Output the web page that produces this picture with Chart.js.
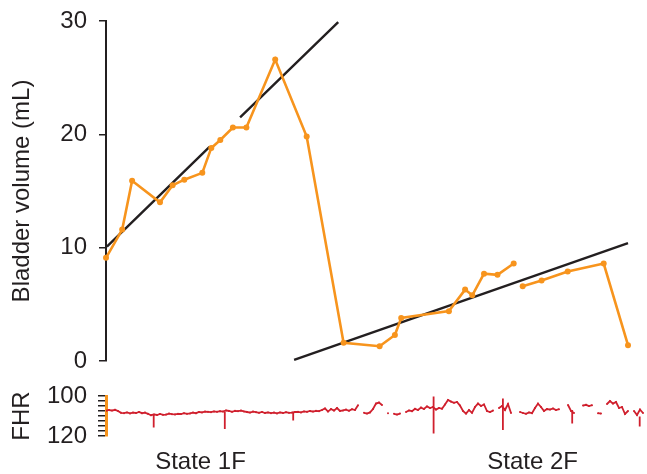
<!DOCTYPE html>
<html>
<head>
<meta charset="utf-8">
<script src="https://cdn.jsdelivr.net/npm/chart.js@4.4.1/dist/chart.umd.min.js"></script>
<style>
  html, body { margin: 0; padding: 0; background: #fff; overflow: hidden; }
  canvas { position: absolute; left: 0; }
  #volChart { top: 0; }
  #fhrChart { top: 380px; }
</style>
</head>
<body>
<canvas id="volChart" width="647" height="380"></canvas>
<canvas id="fhrChart" width="647" height="94"></canvas>
<script>
// ==========================================
// DATA (time in arbitrary units, 0-60)
// ==========================================
const bladderTime = [0, 1.8, 2.9, 6.0, 7.4, 8.7, 10.7, 11.7, 12.7, 14.1, 15.6, 18.8, 22.3,
  26.4, 30.4, 32.1, 32.8, 38.1, 39.9, 40.7, 42.0, 43.5, 45.3, 45.8, 46.3, 48.4, 51.3, 55.3, 58.0];
const bladderVolume = [9.1, 11.6, 15.9, 14.0, 15.5, 16.0, 16.6, 18.8, 19.5, 20.6, 20.6, 26.6, 19.8,
  1.6, 1.3, 2.3, 3.8, 4.4, 6.3, 5.8, 7.7, 7.6, 8.6, null, 6.6, 7.1, 7.9, 8.6, 1.4];

// fitted lines (the first one is broken where the trace crosses it)
const trend1Time = [0.1, 11.5, 13.2, 14.9, 25.8];
const trend1Volume = [10.1, 18.9, null, 21.5, 29.9];
const trend2Time = [20.9, 58.0];
const trend2Volume = [0.1, 10.4];

const volumeTicks = [0, 10, 20, 30];

// FHR sampled every 1/3 time unit, null = signal loss
const fhrStep = 1 / 3;
const fhrValues = [
  107.4, 107.0, 107.3, 106.9, 107.5,
  108.4, 108.6, 108.2, 108.7, 108.3, 108.5, 108.0, 108.6, 108.3, 108.9,
  109.6, 109.2, 109.5, 109.0, 109.4, 109.3, 108.8, 109.1, 109.2, 108.9, 109.0, 108.6, 108.9, 108.7,
  108.3, 108.6, 108.0, 108.2, 107.8, 107.9, 108.1, 107.7, 107.9, 107.6, 107.8, 107.2, 107.5, 107.9, 107.4, 107.6, 107.3, 107.7,
  108.0, 108.3, 107.8, 108.1, 108.4, 108.0, 108.5, 108.2, 108.6, 108.3, 108.7, 108.2, 108.5, 108.1, 108.4,
  108.3, 108.0, 107.9, 108.2, 107.7, 107.9, 107.5, 107.8, 107.4, 107.6,
  107.0, 106.2, 107.8, 106.5, 107.3, 106.0, 107.5,
  107.2, 106.8, 107.4, 106.6, 107.0,
  104.6, null, 108.4, 108.8, 108.2, 106.5,
  103.8, 103.3, 104.5, null, 108.6, null, 108.9, 109.3, 108.8, null,
  108.0, 107.2, 107.6, 106.4, 107.0, 105.8, 106.5, 105.2, 106.0, 105.5, 106.8, 106.0, 106.4, 104.2, 102.0, 102.8, 103.4,
  103.0, 104.8, 107.5, 108.8, 107.0, 108.4, 105.5, 103.8, 105.0, 104.2, 107.5, 108.0, 107.3, null, 106.0, 105.0, 107.0,
  104.0, 108.5, null,
  null, 108.0, 108.5, 108.9, 108.2, 108.6,
  106.0, 103.8, 105.5,
  107.5, 106.5, 106.8, 106.2, 107.0, 106.6, null, null,
  104.5, 107.5, 108.5,
  null, null,
  104.8, 104.4, 105.0, 104.6,
  null, 108.6, 108.8, null,
  104.0, 102.5, 103.8, 103.0, 106.0,
  105.5, 109.0, 107.5, null,
  107.5, 109.5, 106.8, 108.5
];

// short artefact spikes in the FHR trace
const spikeTime = [5.3, 13.2, 20.8, 36.4, 44.1, 51.8, 59.3];
const spikeTop = [109.5, 108.0, 108.5, 100.3, 101.2, 107.0, 110.3];
const spikeBottom = [115.7, 116.5, 112.3, 118.7, 117.0, 113.7, 115.3];

const stateTime = [10.5, 47.4];
const stateLabels = ['State 1F', 'State 2F'];

// ==========================================
// STYLE
// ==========================================
const ORANGE = '#f7941d';
const INK = '#231f20';
const RED = '#d0202e';
const AXIS_W = 106;

Chart.defaults.font.family = "'Liberation Sans', Arial, sans-serif";
Chart.defaults.font.size = 24;
Chart.defaults.color = INK;
Chart.defaults.animation = false;

const pts = (xs, ys) => xs.map((x, i) => ({ x, y: ys[i] }));

// fixed axis width, no extra label padding pushed into the layout
function fixLeftAxis(s) {
  s.width = AXIS_W;
  s.paddingTop = 0;
  s.paddingBottom = 0;
}

// ==========================================
// BLADDER VOLUME PANEL
// ==========================================
new Chart(document.getElementById('volChart'), {
  type: 'line',
  data: {
    datasets: [
      {
        data: pts(bladderTime, bladderVolume), borderColor: ORANGE, backgroundColor: ORANGE,
        borderWidth: 2.6, pointRadius: 3, pointBorderWidth: 0, spanGaps: false, clip: false, order: 0
      },
      {
        data: pts(trend1Time, trend1Volume), borderColor: INK, borderWidth: 2.4,
        pointRadius: 0, spanGaps: false, clip: false, order: 1
      },
      {
        data: pts(trend2Time, trend2Volume), borderColor: INK, borderWidth: 2.4,
        pointRadius: 0, clip: false, order: 1
      }
    ]
  },
  options: {
    responsive: false,
    layout: { autoPadding: false, padding: { left: 0, right: 1, top: 21, bottom: 19 } },
    plugins: { legend: { display: false }, tooltip: { enabled: false } },
    scales: {
      x: { type: 'linear', min: 0, max: 60, display: false },
      y: {
        min: 0, max: 30,
        afterFit: fixLeftAxis,
        afterBuildTicks: (s) => { s.ticks = volumeTicks.map(v => ({ value: v })); },
        ticks: { padding: 12, color: INK },
        grid: { drawOnChartArea: false, drawTicks: true, tickLength: 7, color: INK, lineWidth: 1.5 },
        border: { display: true, color: INK, width: 2 },
        title: { display: true, text: 'Bladder volume (mL)', color: INK, padding: { top: 8, bottom: 0 } }
      }
    }
  }
});

// ==========================================
// FHR PANEL
// ==========================================
const spikeData = [];
spikeTime.forEach((t, i) => {
  spikeData.push({ x: t, y: spikeTop[i] }, { x: t, y: spikeBottom[i] }, { x: t, y: null });
});

new Chart(document.getElementById('fhrChart'), {
  type: 'line',
  data: {
    datasets: [
      {
        data: fhrValues.map((v, i) => ({ x: i * fhrStep, y: v })),
        borderColor: RED, backgroundColor: RED, borderWidth: 1.8,
        pointRadius: 1, pointBorderWidth: 0, spanGaps: false, tension: 0
      },
      {
        data: spikeData, borderColor: RED, borderWidth: 1.8, pointRadius: 0, spanGaps: false
      }
    ]
  },
  options: {
    responsive: false,
    layout: { autoPadding: false, padding: { left: 0, right: 1, top: 16, bottom: 0 } },
    plugins: { legend: { display: false }, tooltip: { enabled: false } },
    scales: {
      x: {
        type: 'linear', min: 0, max: 60,
        afterFit: (s) => { s.height = 38; s.paddingLeft = 0; s.paddingRight = 0; },
        afterBuildTicks: (s) => { s.ticks = stateTime.map(v => ({ value: v })); },
        ticks: { padding: 12, autoSkip: false, maxRotation: 0, callback: (v, i) => stateLabels[i] },
        grid: { display: false, drawTicks: false },
        border: { display: false }
      },
      y: {
        min: 100, max: 120, reverse: true,
        afterFit: fixLeftAxis,
        ticks: { stepSize: 2.5, autoSkip: false, padding: 11, callback: (v) => (v === 100 || v === 120) ? v : '' },
        grid: { drawOnChartArea: false, drawTicks: true, tickLength: 8, color: INK, lineWidth: 1.5 },
        border: { display: true, color: ORANGE, width: 3 },
        title: { display: true, text: 'FHR', color: INK, padding: { top: 8, bottom: 0 } }
      }
    }
  }
});
</script>
</body>
</html>
